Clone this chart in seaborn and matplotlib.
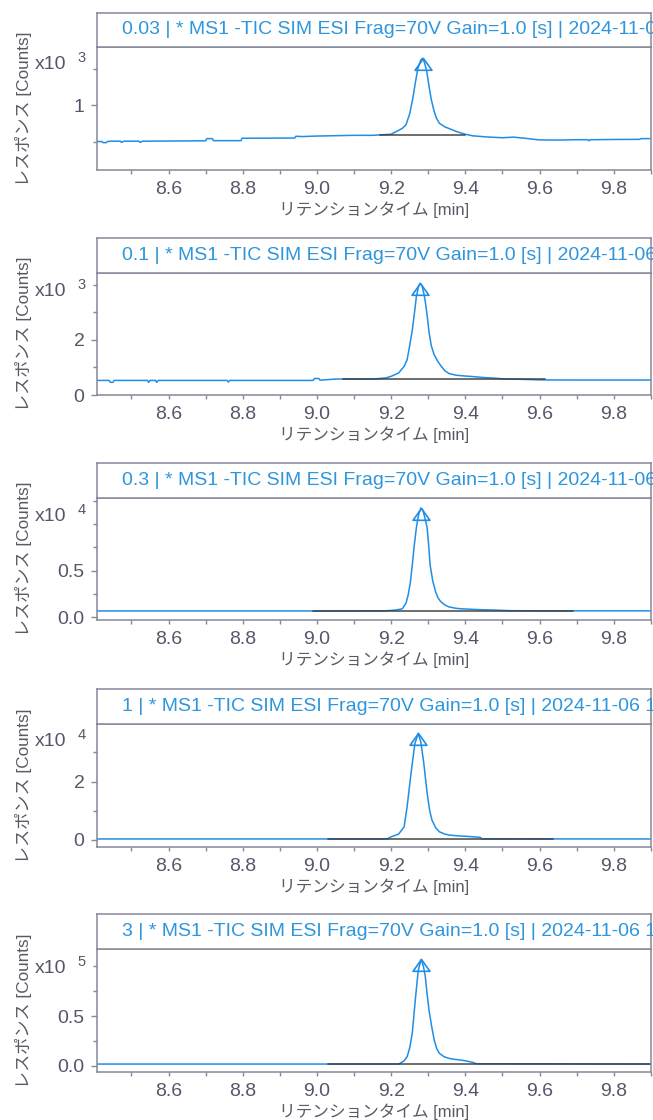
import numpy as np
import pandas as pd
import matplotlib
matplotlib.use("Agg")
import matplotlib.pyplot as plt
import seaborn as sns
from matplotlib.path import Path
from matplotlib.ticker import FixedLocator, FixedFormatter, MultipleLocator, FormatStrFormatter

sns.set_theme(style="white")
plt.rcParams["font.family"] = ["Liberation Sans", "Noto Sans CJK JP", "DejaVu Sans"]

# ---------------- data ----------------
concentrations = ["0.03", "0.1", "0.3", "1", "3"]
title_tail = " | * MS1 -TIC SIM ESI Frag=70V Gain=1.0 [s] | 2024-11-06 1"
multipliers = [1e3, 1e3, 1e4, 1e4, 1e5]
exponents = ["3", "3", "4", "4", "5"]

t1 = [8.407, 8.420, 8.423, 8.432, 8.435, 8.445, 8.470, 8.473, 8.480, 8.520, 8.523, 8.530, 8.700, 8.703,
      8.718, 8.721, 8.795, 8.798, 8.940, 8.943, 8.960, 9.000, 9.050, 9.100, 9.150, 9.200, 9.215, 9.230,
      9.240, 9.250, 9.258, 9.265, 9.272, 9.280, 9.285, 9.290, 9.296, 9.302, 9.308, 9.315, 9.322, 9.330,
      9.345, 9.360, 9.380, 9.400, 9.420, 9.460, 9.500, 9.530, 9.560, 9.600, 9.650, 9.700, 9.730, 9.733,
      9.737, 9.800, 9.870, 9.873, 9.9005]
y1 = [500, 500, 485, 485, 500, 505, 505, 488, 505, 505, 488, 505, 510, 540,
      540, 512, 512, 545, 548, 572, 568, 575, 580, 585, 585, 600, 640, 680,
      730, 880, 1080, 1300, 1500, 1620, 1640, 1580, 1460, 1260, 1080, 930, 820, 750,
      700, 670, 630, 600, 578, 562, 552, 560, 545, 522, 520, 525, 525, 510,
      525, 528, 530, 540, 540]

t2 = [8.407, 8.440, 8.443, 8.450, 8.453, 8.543, 8.546, 8.550, 8.565, 8.568, 8.572, 8.758, 8.761, 8.765,
      8.990, 8.993, 9.005, 9.008, 9.020, 9.050, 9.100, 9.150, 9.185, 9.200, 9.220, 9.235, 9.243, 9.250,
      9.257, 9.263, 9.268, 9.274, 9.278, 9.283, 9.288, 9.292, 9.297, 9.302, 9.308, 9.316, 9.325, 9.333,
      9.345, 9.356, 9.375, 9.390, 9.420, 9.445, 9.480, 9.510, 9.550, 9.600, 9.700, 9.800, 9.9005]
y2 = [530, 530, 460, 460, 530, 530, 460, 530, 530, 460, 530, 530, 470, 530,
      530, 600, 600, 540, 550, 580, 580, 580, 620, 680, 800, 1040, 1280, 1800,
      2360, 3000, 3580, 3960, 4060, 3980, 3700, 3400, 2900, 2300, 1800, 1460, 1240, 1080,
      880, 780, 720, 700, 670, 640, 610, 580, 570, 550, 544, 544, 544]

t3 = [8.407, 9.000, 9.180, 9.210, 9.230, 9.240, 9.246, 9.252, 9.257, 9.262, 9.268, 9.274, 9.280, 9.285,
      9.290, 9.297, 9.301, 9.305, 9.312, 9.320, 9.326, 9.333, 9.345, 9.356, 9.375, 9.390, 9.430, 9.480,
      9.520, 9.600, 9.9005]
y3 = [670, 670, 680, 750, 900, 1500, 2400, 3800, 5600, 7600, 9600, 11000, 11700, 11500,
      10800, 9600, 7800, 5600, 3900, 2700, 2100, 1700, 1300, 1100, 950, 900, 820, 760,
      700, 680, 680]

t4 = [8.407, 9.150, 9.190, 9.200, 9.220, 9.235, 9.243, 9.250, 9.257, 9.264, 9.273, 9.280, 9.288, 9.297,
      9.304, 9.310, 9.320, 9.330, 9.345, 9.356, 9.380, 9.410, 9.440, 9.445, 9.9005]
y4 = [350, 350, 380, 1100, 2000, 4500, 11400, 19000, 26300, 33000, 36500, 33500, 26300, 16000,
      10000, 6800, 4200, 2800, 2000, 1700, 1400, 1200, 900, 380, 350]

t5 = [8.407, 9.220, 9.225, 9.235, 9.243, 9.250, 9.257, 9.265, 9.273, 9.281, 9.287, 9.292, 9.297, 9.302,
      9.309, 9.316, 9.323, 9.330, 9.343, 9.356, 9.370, 9.387, 9.400, 9.420, 9.430, 9.9005]
y5 = [1700, 1700, 2700, 5000, 9000, 18000, 33000, 66000, 96000, 107000, 100000, 90000, 72000, 56000,
      40000, 26000, 17000, 12500, 9000, 7400, 6500, 5700, 5000, 3400, 2000, 1700]

times = [t1, t2, t3, t4, t5]
signals = [y1, y2, y3, y4, y5]

# integration baselines (start, end, level in counts)
base_start = [9.17, 9.07, 8.99, 9.03, 9.03]
base_end = [9.40, 9.615, 9.69, 9.635, 9.9005]
base_level = [595, 580, 670, 350, 1700]

# y-axis ticks (in multiplier units) and their labels
ymajor = [[1.0], [0.0, 2.0], [0.0, 0.5], [0.0, 2.0], [0.0, 0.5]]
ymajor_labels = [["1"], ["0", "2"], ["0.0", "0.5"], ["0", "2"], ["0.0", "0.5"]]
yminor = [[0.5, 1.5], [1.0, 3.0, 4.0], [0.25, 0.75, 1.0, 1.25], [1.0, 3.0], [0.25, 0.75, 1.0]]
ylims = [(0.110, 1.795), (0.0, 4.436), (-0.030, 1.277), (-0.24, 3.97), (-0.063, 1.175)]
xlim = (8.407, 9.9005)

# ---------------- layout / style ----------------
W_PX, H_PX = 653, 1120
left_px, right_px = 97, 651
hdr_top_px = [13, 238, 463, 689, 914]
ax_top_px = [47, 273, 498, 724, 949]
ax_bot_px = [170, 395, 620, 847, 1072]
exp_y = [0.91, 0.90, 0.90, 0.91, 0.895]

BLUE = "#1f8ee6"
TITLE_BLUE = "#2e96dc"
FRAME = "#858898"
TICKC = "#56566a"
LABELC = "#5a5a66"
BASEC = "#3c3c3c"

tri = Path([(0, 0), (-1, -1.4), (1, -1.4), (0, 0)],
           [Path.MOVETO, Path.LINETO, Path.LINETO, Path.CLOSEPOLY])

fig = plt.figure(figsize=(W_PX / 100, H_PX / 100), dpi=100)
fig.patch.set_facecolor("white")

L = left_px / W_PX
Wd = (right_px - left_px) / W_PX

for i in range(5):
    mult = multipliers[i]
    ax = fig.add_axes([L, 1 - ax_bot_px[i] / H_PX, Wd, (ax_bot_px[i] - ax_top_px[i]) / H_PX])
    hx = fig.add_axes([L, 1 - ax_top_px[i] / H_PX, Wd, (ax_top_px[i] - hdr_top_px[i]) / H_PX])

    df = pd.DataFrame({"t": times[i], "y": np.array(signals[i], dtype=float) / mult})
    sns.lineplot(data=df, x="t", y="y", ax=ax, color=BLUE, lw=1.1, estimator=None, sort=False)

    bdf = pd.DataFrame({"t": [base_start[i], base_end[i]],
                        "y": [base_level[i] / mult, base_level[i] / mult]})
    sns.lineplot(data=bdf, x="t", y="y", ax=ax, color=BASEC, lw=1.3, alpha=0.8,
                 estimator=None, sort=False)

    k = int(np.argmax(df["y"].values))
    ax.plot([df["t"].values[k]], [df["y"].values[k]], marker=tri, ms=17, mfc="none",
            mec=BLUE, mew=1.2, ls="none")

    ax.set_xlim(*xlim)
    ax.set_ylim(*ylims[i])
    ax.xaxis.set_major_locator(MultipleLocator(0.2))
    ax.xaxis.set_minor_locator(MultipleLocator(0.1))
    ax.xaxis.set_major_formatter(FormatStrFormatter("%.1f"))
    ax.yaxis.set_major_locator(FixedLocator(ymajor[i]))
    ax.yaxis.set_major_formatter(FixedFormatter(ymajor_labels[i]))
    ax.yaxis.set_minor_locator(FixedLocator(yminor[i]))

    ax.tick_params(axis="both", which="both", direction="out", color=FRAME,
                   labelcolor=TICKC, labelsize=14, bottom=True, left=True, width=1.0)
    ax.tick_params(axis="x", which="both", length=3, pad=5)
    ax.tick_params(axis="y", which="major", length=4, pad=5)
    ax.tick_params(axis="y", which="minor", length=3)

    for sp in ax.spines.values():
        sp.set_color(FRAME)
        sp.set_linewidth(1.1)
    ax.grid(False)

    ax.set_xlabel("リテンションタイム [min]", fontsize=12, color=LABELC)
    ax.xaxis.set_label_coords(0.5, -0.325)
    ax.xaxis.label.set_va("center")
    ax.set_ylabel("レスポンス [Counts]", fontsize=12.3, color=LABELC)
    ax.yaxis.set_label_coords(-0.132, 0.5)
    ax.yaxis.label.set_va("center")
    ax.yaxis.label.set_ha("center")

    ax.text(-0.112, exp_y[i] - 0.055, "x10", transform=ax.transAxes, ha="left", va="center",
            fontsize=14, color=TICKC, clip_on=False)
    ax.text(-0.020, exp_y[i], exponents[i], transform=ax.transAxes, ha="right", va="center",
            fontsize=10.5, color=TICKC, clip_on=False)

    hx.set_xticks([])
    hx.set_yticks([])
    for sp in hx.spines.values():
        sp.set_color(FRAME)
        sp.set_linewidth(1.1)
    hx.set_facecolor("white")
    hx.text(0.045, 0.5, concentrations[i] + title_tail, transform=hx.transAxes,
            ha="left", va="center", fontsize=14, color=TITLE_BLUE, clip_on=False)

fig.savefig("out.png", dpi=100, facecolor="white")
